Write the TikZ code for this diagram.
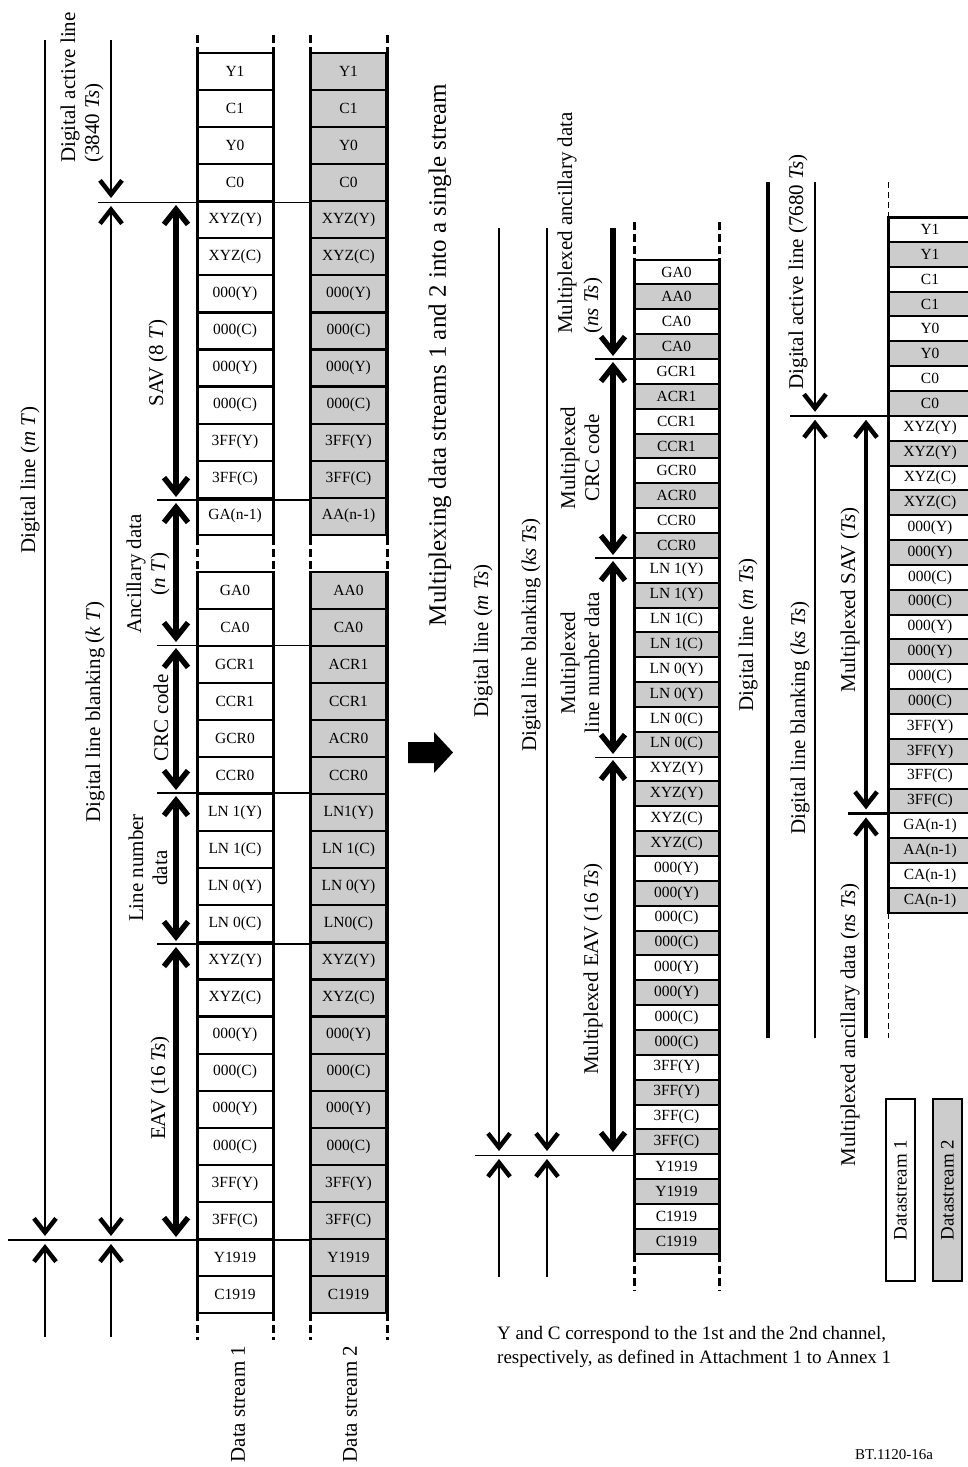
\documentclass[tikz,border=0pt]{standalone}
\usepackage{fontspec}
\setmainfont{Liberation Serif}
\usetikzlibrary{arrows.meta}
\definecolor{gfill}{RGB}{204,204,204}
\begin{document}
\begin{tikzpicture}[x=1pt,y=-1pt,
  cellfont/.style={font=\fontsize{15.5}{16}\selectfont},
  cellL/.style={draw, line width=2.2pt, inner sep=0pt, minimum width=76pt, minimum height=37.06pt, cellfont},
  cellM/.style={draw, line width=2pt, inner sep=0pt, minimum width=85pt, minimum height=24.85pt, cellfont},
  lbl/.style={rotate=90, font=\fontsize{21}{24}\selectfont, inner sep=0pt},
  side/.style={line width=3pt},
  dside/.style={line width=3pt, dash pattern=on 8pt off 4pt},
  tside/.style={line width=1pt, dash pattern=on 6pt off 4pt},
  tb/.tip={Straight Barb[length=14pt,width=22pt,line width'=4.5pt]},
  kb/.tip={Straight Barb[length=15pt,width=24pt,line width'=5.5pt]},
  tarr/.style={line width=2.5pt, shorten >=4pt, shorten <=4pt},
  karr/.style={line width=5.5pt, shorten >=3pt, shorten <=3pt},
  hthin/.style={line width=1pt},
  hthick/.style={line width=2.5pt}
]
\useasboundingbox (0,0) rectangle (968,1467);

% ---------------- left: data stream 1 ----------------
\foreach \t [count=\i from 0] in {Y1,C1,Y0,C0,XYZ(Y),XYZ(C),000(Y),000(C),000(Y),000(C),3FF(Y),3FF(C),GA(n-1)}
  {\node[cellL, fill=white] (a\i) at (235,{53+(\i+0.5)*37.06}) {\t};}
\foreach \t [count=\i from 14] in {GA0,CA0,GCR1,CCR1,GCR0,CCR0,LN 1(Y),LN 1(C),LN 0(Y),LN 0(C),XYZ(Y),XYZ(C),000(Y),000(C),000(Y),000(C),3FF(Y),3FF(C),Y1919,C1919}
  {\node[cellL, fill=white] (a\i) at (235,{53+(\i+0.5)*37.06}) {\t};}
% ---------------- left: data stream 2 ----------------
\foreach \t [count=\i from 0] in {Y1,C1,Y0,C0,XYZ(Y),XYZ(C),000(Y),000(C),000(Y),000(C),3FF(Y),3FF(C),AA(n-1)}
  {\node[cellL, fill=gfill] (b\i) at (348.5,{53+(\i+0.5)*37.06}) {\t};}
\foreach \t [count=\i from 14] in {AA0,CA0,ACR1,CCR1,ACR0,CCR0,LN1(Y),LN 1(C),LN 0(Y),LN0(C),XYZ(Y),XYZ(C),000(Y),000(C),000(Y),000(C),3FF(Y),3FF(C),Y1919,C1919}
  {\node[cellL, fill=gfill] (b\i) at (348.5,{53+(\i+0.5)*37.06}) {\t};}

\foreach \x in {197,273,310,387}{
  \draw[side] (\x,53) -- (\x,537);
  \draw[side] (\x,571) -- (\x,1313);
  \draw[dside] (\x,537) -- (\x,571);
  \draw[dside] (\x,35) -- (\x,53);
  \draw[dside] (\x,1313) -- (\x,1340);
}

% horizontal boundary lines (left)
\draw[hthin] (98,202) -- (310,202);
\draw[hthick] (157,500) -- (310,500);
\draw[hthin] (157,645) -- (310,645);
\draw[hthick] (157,793) -- (310,793);
\draw[hthick] (157,944) -- (310,944);
\draw[hthick] (8,1240) -- (310,1240);

% arrows (left)
\coordinate (dlT) at (45,40); \coordinate (dlM) at (45,1240); \coordinate (dlB) at (45,1337);
\draw[tarr,-tb,shorten <=0pt] (dlT) -- (dlM);
\draw[tarr,-tb,shorten <=0pt] (dlB) -- (dlM);
\coordinate (baT) at (111,40); \coordinate (baM) at (111,202); \coordinate (baE) at (111,1240); \coordinate (baB) at (111,1337);
\draw[tarr,-tb,shorten <=0pt] (baT) -- (baM);
\draw[tarr,tb-tb] (baM) -- (baE);
\draw[tarr,-tb,shorten <=0pt] (baB) -- (baE);
\coordinate (k0) at (176,202); \coordinate (k1) at (176,500); \coordinate (k2) at (176,645);
\coordinate (k3) at (176,793); \coordinate (k4) at (176,944); \coordinate (k5) at (176,1240);
\draw[karr,kb-kb] (k0) -- (k1);
\draw[karr,kb-kb] (k1) -- (k2);
\draw[karr,kb-kb] (k2) -- (k3);
\draw[karr,kb-kb] (k3) -- (k4);
\draw[karr,kb-kb] (k4) -- (k5);

% labels (left)
\node[lbl] (lDL) at (30,480) {Digital line (\textit{m T})};
\node[lbl, anchor=west] (lDA1) at (70,163) {Digital active line};
\node[lbl, anchor=west] (lDA2) at (94,163) {(3840 \textit{Ts})};
\node[lbl] (lBL) at (95,712) {Digital line blanking (\textit{k T})};
\node[lbl] (lSAV) at (158,363) {SAV (8 \textit{T})};
\node[lbl, align=center] (lANC) at (148,574) {Ancillary data\\(\textit{n T})};
\node[lbl] (lCRC) at (161,718) {CRC code};
\node[lbl, align=center] (lLN) at (148,868) {Line number\\data};
\node[lbl] (lEAV) at (160,1088) {EAV (16 \textit{Ts})};
\node[lbl] (lDS1) at (238,1404) {Data stream 1};
\node[lbl] (lDS2) at (350,1404) {Data stream 2};

% big arrow
\fill (408,742) -- (434,742) -- (434,732) -- (453,752.5) -- (434,773) -- (434,763) -- (408,763) -- cycle;

% title
\node[rotate=90, font=\fontsize{25}{28}\selectfont, inner sep=0pt] (title) at (440,355) {Multiplexing data streams 1 and 2 into a single stream};

% ---------------- middle: multiplexed stream ----------------
\foreach \t [count=\i from 0] in {GA0,AA0,CA0,CA0,GCR1,ACR1,CCR1,CCR1,GCR0,ACR0,CCR0,CCR0,LN 1(Y),LN 1(Y),LN 1(C),LN 1(C),LN 0(Y),LN 0(Y),LN 0(C),LN 0(C),XYZ(Y),XYZ(Y),XYZ(C),XYZ(C),000(Y),000(Y),000(C),000(C),000(Y),000(Y),000(C),000(C),3FF(Y),3FF(Y),3FF(C),3FF(C),Y1919,Y1919,C1919,C1919}
  {\ifodd\i \def\fc{gfill}\else\def\fc{white}\fi
   \node[cellM, fill=\fc] (m\i) at (676.5,{259.6+(\i+0.5)*24.85}) {\t};}
\foreach \x in {634,719}{
  \draw[side] (\x,259.6) -- (\x,1253.6);
  \draw[dside] (\x,222) -- (\x,259.6);
  \draw[dside] (\x,1253.6) -- (\x,1290);
}
\draw[hthick] (595,359) -- (634,359);
\draw[hthick] (595,558) -- (634,558);
\draw[hthin] (595,757) -- (634,757);
\draw[hthin] (475,1155) -- (634,1155);

\coordinate (mdT) at (499,228); \coordinate (mdM) at (499,1155); \coordinate (mdB) at (499,1277);
\draw[tarr,-tb,shorten <=0pt] (mdT) -- (mdM);
\draw[tarr,-tb,shorten <=0pt] (mdB) -- (mdM);
\coordinate (mbT) at (547,228); \coordinate (mbM) at (547,1155); \coordinate (mbB) at (547,1277);
\draw[tarr,-tb,shorten <=0pt] (mbT) -- (mbM);
\draw[tarr,-tb,shorten <=0pt] (mbB) -- (mbM);
\coordinate (n0) at (613,228); \coordinate (n1) at (613,359); \coordinate (n2) at (613,558);
\coordinate (n3) at (613,757); \coordinate (n4) at (613,1155);
\draw[karr,-kb,shorten <=0pt] (n0) -- (n1);
\draw[karr,kb-kb] (n1) -- (n2);
\draw[karr,kb-kb] (n2) -- (n3);
\draw[karr,kb-kb] (n3) -- (n4);

\node[lbl] (mDL) at (483,641) {Digital line (\textit{m Ts})};
\node[lbl] (mBL) at (531,635) {Digital line blanking (\textit{ks Ts})};
\node[lbl, anchor=west] (mAN1) at (567,334) {Multiplexed ancillary data};
\node[lbl, anchor=west] (mAN2) at (593,334) {(\textit{ns Ts})};
\node[lbl, align=center] (mCRC) at (580,458) {Multiplexed\\CRC code};
\node[lbl, align=center] (mLN) at (580,663) {Multiplexed\\line number data};
\node[lbl] (mEAV) at (593,969) {Multiplexed EAV (16 \textit{Ts})};

% footnote
\node[anchor=west, font=\fontsize{19}{24}\selectfont, align=left, inner sep=0pt] (note) at (497,1347)
  {Y and C correspond to the 1st and the 2nd channel,\\respectively, as defined in Attachment 1 to Annex 1};

% ---------------- right: multiplexed full line ----------------
\foreach \t [count=\i from 0] in {Y1,Y1,C1,C1,Y0,Y0,C0,C0,XYZ(Y),XYZ(Y),XYZ(C),XYZ(C),000(Y),000(Y),000(C),000(C),000(Y),000(Y),000(C),000(C),3FF(Y),3FF(Y),3FF(C),3FF(C),GA(n-1),AA(n-1),CA(n-1),CA(n-1)}
  {\ifodd\i \def\fc{gfill}\else\def\fc{white}\fi
   \node[cellM, minimum width=84pt, fill=\fc] (r\i) at (930,{217+(\i+0.5)*24.85}) {\t};}
\draw[side] (888,217) -- (888,913);
\draw[side] (888,217) -- (972,217);
\draw[tside] (888,182) -- (888,217);
\draw[tside] (888,913) -- (888,1038);

\coordinate (rlT) at (768,182); \coordinate (rlB) at (768,1038);
\draw[line width=4pt] (rlT) -- (rlB);
\coordinate (raT) at (815,182); \coordinate (raM) at (815,415.8); \coordinate (raB) at (815,1038);
\draw[tarr,-tb,shorten <=0pt] (raT) -- (raM);
\draw[tarr,-tb,shorten <=0pt] (raB) -- (raM);
\coordinate (rs0) at (866,415.8); \coordinate (rs1) at (866,813.4); \coordinate (rs2) at (866,1038);
\draw[tarr,line width=3.5pt,tb-tb] (rs0) -- (rs1);
\draw[tarr,line width=3.5pt,-tb,shorten <=0pt] (rs2) -- (rs1);
\draw[hthick] (790,415.8) -- (888,415.8);
\draw[hthick] (848,813.4) -- (888,813.4);

\node[lbl] (rDL) at (748,635) {Digital line (\textit{m Ts})};
\node[lbl] (rDA) at (798,272) {Digital active line (7680 \textit{Ts})};
\node[lbl] (rBL) at (800,718) {Digital line blanking (\textit{ks Ts})};
\node[lbl] (rSAV) at (850,600) {Multiplexed SAV (\textit{Ts})};
\node[lbl] (rAN) at (850,1025) {Multiplexed ancillary data (\textit{ns Ts})};

% legend
\node[draw, line width=2.5pt, fill=white, rotate=90, minimum width=182pt, minimum height=29pt, inner sep=0pt, font=\fontsize{19}{22}\selectfont] (leg1) at (900.5,1190) {Datastream 1};
\node[draw, line width=2.5pt, fill=gfill, rotate=90, minimum width=182pt, minimum height=29pt, inner sep=0pt, font=\fontsize{19}{22}\selectfont] (leg2) at (947.5,1190) {Datastream 2};

% figure id
\node[anchor=north west, font=\fontsize{15}{18}\selectfont, inner sep=0pt] (figid) at (855,1449) {BT.1120-16a};
\end{tikzpicture}
\end{document}
